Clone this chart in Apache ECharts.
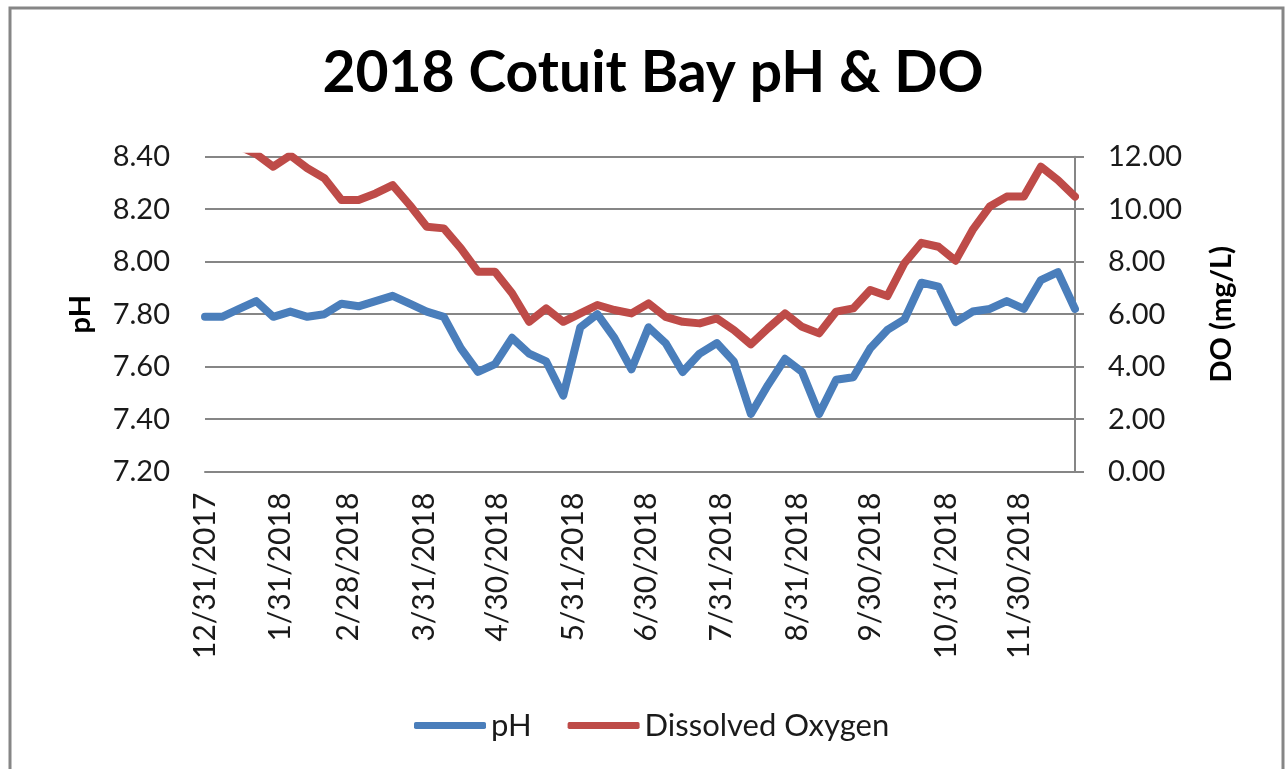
<!DOCTYPE html>
<html>
<head>
<meta charset="utf-8">
<script src="https://cdn.jsdelivr.net/npm/echarts@6/dist/echarts.min.js"></script>
<style>
html,body{margin:0;padding:0;background:#fff;}
#chart{width:1285px;height:769px;}
</style>
</head>
<body>
<div id="chart"></div>
<script>
const dates = ['2017-12-31','2018-01-07','2018-01-14','2018-01-21','2018-01-28','2018-02-04','2018-02-11','2018-02-18','2018-02-25','2018-03-04','2018-03-11','2018-03-18','2018-03-25','2018-04-01','2018-04-08','2018-04-15','2018-04-22','2018-04-29','2018-05-06','2018-05-13','2018-05-20','2018-05-27','2018-06-03','2018-06-10','2018-06-17','2018-06-24','2018-07-01','2018-07-08','2018-07-15','2018-07-22','2018-07-29','2018-08-05','2018-08-12','2018-08-19','2018-08-26','2018-09-02','2018-09-09','2018-09-16','2018-09-23','2018-09-30','2018-10-07','2018-10-14','2018-10-21','2018-10-28','2018-11-04','2018-11-11','2018-11-18','2018-11-25','2018-12-02','2018-12-09','2018-12-16','2018-12-23'];
const phValues = [7.79,7.79,7.82,7.85,7.79,7.81,7.79,7.80,7.84,7.83,7.85,7.87,7.84,7.81,7.79,7.67,7.58,7.61,7.71,7.65,7.62,7.49,7.75,7.80,7.71,7.59,7.75,7.69,7.58,7.65,7.69,7.62,7.42,7.53,7.63,7.58,7.42,7.55,7.56,7.67,7.74,7.78,7.92,7.905,7.77,7.81,7.82,7.85,7.82,7.93,7.96,7.82];
const doValues = [12.4,12.6,12.4,12.1,11.62,12.05,11.56,11.18,10.35,10.35,10.6,10.92,10.16,9.33,9.27,8.51,7.62,7.62,6.8,5.71,6.22,5.71,6.03,6.35,6.16,6.03,6.41,5.9,5.71,5.65,5.84,5.4,4.85,5.46,6.03,5.52,5.27,6.1,6.22,6.92,6.69,7.94,8.72,8.57,8.04,9.21,10.1,10.48,10.48,11.62,11.11,10.48];
const xTickLabels = ['12/31/2017','1/31/2018','2/28/2018','3/31/2018','4/30/2018','5/31/2018','6/30/2018','7/31/2018','8/31/2018','9/30/2018','10/31/2018','11/30/2018'];
const seriesNames = ['pH','Dissolved Oxygen'];
const titleText = '2018 Cotuit Bay pH & DO';

const DAY = 86400000;
function parseISO(s){const p=s.split('-').map(Number);return Date.UTC(p[0],p[1]-1,p[2]);}
function parseMDY(s){const p=s.split('/').map(Number);return Date.UTC(p[2],p[0]-1,p[1]);}
const t0 = parseISO(dates[0]);
const xs = dates.map(s=>Math.round((parseISO(s)-t0)/DAY));
const tickDays = xTickLabels.map(s=>Math.round((parseMDY(s)-t0)/DAY));
const phData = xs.map((t,i)=>[t,phValues[i]]);
const doData = xs.map((t,i)=>[t,doValues[i]]);

const FONT = 'Lato';
const GRID = '#868686';
const chart = echarts.init(document.getElementById('chart'), null, {renderer:'canvas'});
chart.setOption({
  animation:false,
  backgroundColor:'#fff',
  textStyle:{fontFamily:FONT},
  title:{text:titleText,left:648,top:40,textAlign:'center',
    textStyle:{fontFamily:FONT,fontWeight:'bold',fontSize:57,color:'#000'}},
  legend:{data:seriesNames,left:409,top:705,icon:'roundRect',itemWidth:72,itemHeight:7,itemGap:36,
    textStyle:{fontFamily:FONT,fontSize:31,color:'#1a1a1a'}},
  grid:{left:205,right:210,top:156.7,bottom:297.3,containLabel:false},
  xAxis:{type:'value',min:xs[0],max:xs[xs.length-1],
    axisLine:{show:true,lineStyle:{color:GRID,width:2}},
    axisTick:{show:false},splitLine:{show:false},
    axisLabel:{rotate:90,margin:21,fontFamily:FONT,fontSize:30,color:'#1a1a1a',
      customValues:tickDays,hideOverlap:false,
      formatter:function(v){const i=tickDays.indexOf(v);return i>=0?xTickLabels[i]:'';}}},
  yAxis:[
    {type:'value',min:7.2,max:8.4,interval:0.2,name:'pH',nameLocation:'middle',nameRotate:90,nameGap:110,
     nameTextStyle:{fontFamily:FONT,fontWeight:'bold',fontSize:29,color:'#000'},
     axisLine:{show:false},axisTick:{show:false},
     axisLabel:{margin:35,fontFamily:FONT,fontSize:29,color:'#1a1a1a',formatter:v=>v.toFixed(2)},
     splitLine:{show:true,lineStyle:{color:GRID,width:2}}},
    {type:'value',min:0,max:12,interval:2,name:'DO (mg/L)',nameLocation:'middle',nameRotate:90,nameGap:132,
     nameTextStyle:{fontFamily:FONT,fontWeight:'bold',fontSize:29,color:'#000'},
     axisLine:{show:true,lineStyle:{color:GRID,width:2}},
     axisTick:{show:true,inside:false,length:9,lineStyle:{color:GRID,width:2}},
     axisLabel:{margin:33,fontFamily:FONT,fontSize:29,color:'#1a1a1a',formatter:v=>v.toFixed(2)},
     splitLine:{show:false}}
  ],
  graphic:[{type:'rect',shape:{x:10,y:8,width:1273,height:800},style:{fill:null,stroke:GRID,lineWidth:3},z:-1,silent:true}],
  series:[
    {name:seriesNames[0],type:'line',yAxisIndex:0,data:phData,symbol:'none',
     lineStyle:{color:'#4A7EBB',width:8,join:'round',cap:'round'},itemStyle:{color:'#4A7EBB'}},
    {name:seriesNames[1],type:'line',yAxisIndex:1,data:doData,symbol:'none',
     lineStyle:{color:'#BE4B48',width:8,join:'round',cap:'round'},itemStyle:{color:'#BE4B48'}}
  ]
});
</script>
</body>
</html>
